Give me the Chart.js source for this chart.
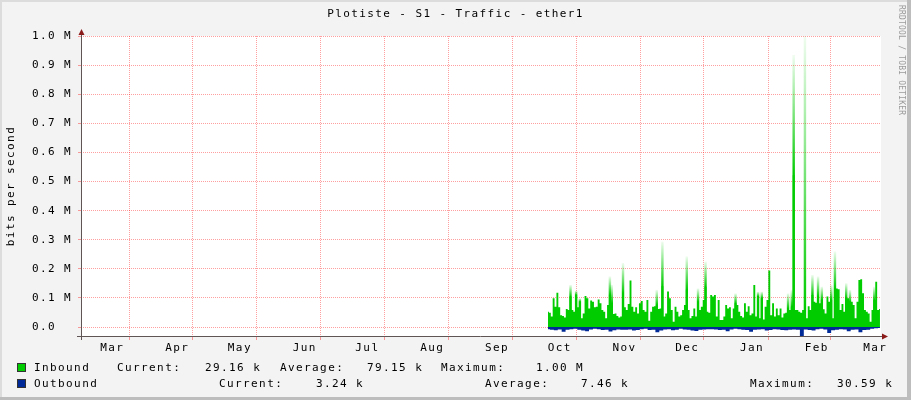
<!DOCTYPE html>
<html>
<head>
<meta charset="utf-8">
<script src="https://cdn.jsdelivr.net/npm/chart.js@4/dist/chart.umd.min.js"></script>
<style>
  html, body { margin: 0; padding: 0; background: #f3f3f3; }
  #wrap { width: 911px; height: 400px; }
</style>
</head>
<body>
<div id="wrap"><canvas id="c"></canvas></div>
<script>
// ── Data ──────────────────────────────────────────────────────────────────────
// time axis in days counted from Mar 1 of the first year
const MONTH_LABELS = ['Mar','Apr','May','Jun','Jul','Aug','Sep','Oct','Nov','Dec','Jan','Feb','Mar'];
const MONTH_START  = [0, 31, 61, 92, 122, 153, 184, 214, 245, 275, 306, 337, 365];
const DAY_MAX      = 382.7;

const Y_TICKS = [0, 100000, 200000, 300000, 400000, 500000, 600000, 700000, 800000, 900000, 1000000];
const Y_MIN   = -30590;
const Y_MAX   = 1000000;

// inbound samples (kbit/s), first sample ~Oct 10, last one at the graph end
const IN_FIRST_DAY = 223.4;
const IN_LAST_DAY  = 382.2;
const inbound = [
  53, 49, 36, 99, 70, 118, 68, 41, 38, 33, 62, 59, 105, 59, 53, 110, 68, 87, 30, 47,
  107, 99, 64, 91, 87, 68, 70, 95, 82, 59, 53, 30, 76, 110, 82, 45, 47, 38, 33, 36,
  116, 68, 59, 79, 160, 70, 53, 68, 47, 82, 90, 59, 53, 93, 22, 53, 70, 72, 76, 62,
  64, 140, 36, 47, 122, 99, 59, 18, 70, 53, 36, 41, 59, 76, 128, 59, 30, 38, 64, 36,
  87, 59, 70, 93, 139, 53, 49, 110, 105, 110, 36, 93, 24, 24, 36, 76, 64, 68, 30, 64,
  82, 76, 53, 38, 33, 82, 53, 72, 41, 47, 145, 36, 105, 30, 99, 26, 70, 93, 194, 41,
  82, 36, 64, 41, 64, 33, 47, 49, 64, 59, 70, 522, 59, 59, 53, 49, 59, 60, 30, 72,
  59, 110, 87, 84, 105, 82, 93, 61, 47, 105, 87, 93, 30, 133, 133, 130, 59, 79, 53, 99,
  99, 87, 87, 76, 30, 87, 162, 164, 116, 59, 53, 47, 18, 59, 93, 156, 59, 62,
];
// [sample index, peak kbit/s] for spikes whose tops fade out
const inboundSpikes = [
  [12, 145], [15, 125], [17, 99], [33, 174], [34, 145], [40, 220], [58, 128], [61, 294],
  [74, 243], [80, 133], [84, 225], [100, 116], [112, 122], [114, 122], [128, 116], [130, 128],
  [131, 935], [137, 1000], [141, 179], [144, 174], [146, 139], [151, 145], [153, 260],
  [159, 151], [161, 128], [174, 139],
];
// outbound samples (kbit/s), drawn below the zero line
const outbound = [
  7, 9, 11, 8, 16, 9, 7, 6, 9, 12, 14, 8, 6, 7, 10, 9, 15, 11, 8, 9,
  9, 8, 12, 10, 7, 6, 10, 9, 18, 12, 8, 7, 11, 9, 6, 8, 9, 12, 13, 9, 8, 7,
  7, 8, 10, 9, 14, 8, 6, 7, 9, 10, 16, 9, 8, 7, 12, 10, 7, 8, 10, 11, 9, 8,
  9, 31, 8, 10, 12, 7, 6, 8, 20, 11, 9, 7, 8, 14, 9, 8, 18, 10, 9, 6, 4, 3,
];

const TITLE = 'Plotiste - S1 - Traffic - ether1';
const Y_TITLE = 'bits per second';
const inboundStats  = ['29.16 k', '79.15 k', '1.00 M'];
const outboundStats = ['3.24 k', '7.46 k', '30.59 k'];

// ── Helpers ───────────────────────────────────────────────────────────────────
const FONT = "'DejaVu Sans Mono', monospace";
const SPACING = '1.4px';
const GREEN = '#00cc00';
const BLUE  = '#002a97';
const GRID  = 'rgba(255,0,0,0.38)';

function sampleDay(i, n) {
  return IN_FIRST_DAY + i * (IN_LAST_DAY - IN_FIRST_DAY) / (n - 1);
}

const inPoints  = inbound.map((v, i) => ({ x: sampleDay(i, inbound.length), y: v * 1000 }));
const outPoints = outbound.map((v, i) => ({ x: sampleDay(i, outbound.length), y: -v * 1000 }));
const spikePoints = inboundSpikes.map(([i, p]) => ({
  x: sampleDay(i, inbound.length), y: p * 1000, s: inbound[i] * 1000,
}));

function spikeFill(ctx) {
  const chart = ctx.chart;
  const ys = chart.scales.y;
  if (ctx.type !== 'data' || !ys || !ctx.raw) return GREEN;
  const y0 = ys.getPixelForValue(ctx.raw.s);
  const y1 = ys.getPixelForValue(ctx.raw.y);
  if (!Number.isFinite(y0) || !Number.isFinite(y1) || y0 === y1) return GREEN;
  const g = chart.ctx.createLinearGradient(0, y0, 0, y1);
  g.addColorStop(0, 'rgba(0,204,0,1)');
  g.addColorStop(1, 'rgba(0,204,0,0.06)');
  return g;
}

// ── rrdtool-like frame, axes, title and legend ───────────────────────────────
const rrdFrame = {
  id: 'rrdFrame',
  beforeDraw(chart) {
    const { ctx, width, height, chartArea: a } = chart;
    ctx.save();
    ctx.fillStyle = '#f3f3f3';
    ctx.fillRect(0, 0, width, height);
    ctx.fillStyle = '#dcdcdc';
    ctx.fillRect(0, 0, width, 2);
    ctx.fillRect(0, 0, 2, height);
    ctx.fillStyle = '#bdbdbd';
    ctx.fillRect(0, height - 3, width, 3);
    ctx.fillRect(width - 4, 0, 4, height);
    ctx.fillStyle = '#ffffff';
    ctx.fillRect(a.left, a.top, a.right - a.left, a.bottom - a.top);
    ctx.restore();
    ctx.letterSpacing = SPACING;
  },
  afterDraw(chart) {
    const { ctx, chartArea: a, width } = chart;
    ctx.save();

    // axes
    ctx.strokeStyle = '#5f5555';
    ctx.lineWidth = 1;
    ctx.beginPath();
    ctx.moveTo(a.left + 0.5, a.bottom + 4);
    ctx.lineTo(a.left + 0.5, a.top - 5);
    ctx.moveTo(a.left - 4, a.bottom + 0.5);
    ctx.lineTo(a.right + 3, a.bottom + 0.5);
    ctx.stroke();
    ctx.fillStyle = '#8b1a1a';
    ctx.beginPath();
    ctx.moveTo(a.left + 0.5, a.top - 7);
    ctx.lineTo(a.left - 2.5, a.top - 1);
    ctx.lineTo(a.left + 3.5, a.top - 1);
    ctx.closePath();
    ctx.fill();
    ctx.beginPath();
    ctx.moveTo(a.right + 7, a.bottom + 0.5);
    ctx.lineTo(a.right + 1, a.bottom - 2.5);
    ctx.lineTo(a.right + 1, a.bottom + 3.5);
    ctx.closePath();
    ctx.fill();

    // title
    ctx.fillStyle = '#000';
    ctx.font = '11px ' + FONT;
    ctx.letterSpacing = SPACING;
    ctx.textBaseline = 'middle';
    ctx.textAlign = 'center';
    ctx.fillText(TITLE, width / 2, 14);

    // legend
    ctx.textAlign = 'left';
    const rows = [
      { y: 368, color: GREEN, name: 'Inbound', stats: inboundStats,
        cols: [117, 205, 280, 367, 441, 536] },
      { y: 384, color: BLUE, name: 'Outbound', stats: outboundStats,
        cols: [219, 316, 485, 581, 750, 837] },
    ];
    rows.forEach(r => {
      ctx.fillStyle = r.color;
      ctx.fillRect(17, r.y - 5, 9, 9);
      ctx.strokeStyle = '#333';
      ctx.strokeRect(17.5, r.y - 4.5, 8, 8);
      ctx.fillStyle = '#000';
      ctx.fillText(r.name, 34, r.y);
      ['Current:', 'Average:', 'Maximum:'].forEach((lab, k) => {
        ctx.fillText(lab, r.cols[k * 2], r.y);
        ctx.fillText(r.stats[k], r.cols[k * 2 + 1], r.y);
      });
    });

    // watermark
    ctx.translate(901, 5);
    ctx.rotate(Math.PI / 2);
    ctx.font = '8px ' + FONT;
    ctx.letterSpacing = '0.2px';
    ctx.fillStyle = '#9a9a9a';
    ctx.textBaseline = 'middle';
    ctx.fillText('RRDTOOL / TOBI OETIKER', 0, 0);

    ctx.restore();
  },
};

// ── Chart ─────────────────────────────────────────────────────────────────────
Chart.defaults.font.family = FONT;
Chart.defaults.font.size = 11;
Chart.defaults.color = '#000';

new Chart(document.getElementById('c'), {
  type: 'line',
  data: {
    datasets: [
      {
        label: 'Inbound peaks',
        type: 'bar',
        data: spikePoints,
        backgroundColor: spikeFill,
        borderWidth: 0,
        barPercentage: 1.3,
        categoryPercentage: 1,
        order: 3,
      },
      {
        label: 'Inbound',
        data: inPoints,
        backgroundColor: GREEN,
        borderColor: 'rgba(0,0,0,0)',
        borderWidth: 0,
        fill: 'origin',
        stepped: 'middle',
        pointRadius: 0,
        order: 2,
      },
      {
        label: 'Outbound',
        data: outPoints,
        backgroundColor: BLUE,
        borderColor: 'rgba(0,0,0,0)',
        borderWidth: 0,
        fill: 'origin',
        stepped: 'middle',
        pointRadius: 0,
        order: 1,
      },
    ],
  },
  options: {
    responsive: true,
    maintainAspectRatio: false,
    animation: false,
    events: [],
    layout: { padding: { left: 0, right: 30, top: 36, bottom: 0 } },
    plugins: { legend: { display: false }, tooltip: { enabled: false } },
    scales: {
      x: {
        type: 'linear',
        min: 0,
        max: DAY_MAX,
        offset: false,
        afterBuildTicks: s => {
          const vals = MONTH_START.slice(1).concat(MONTH_START.map(d => d + 15));
          s.ticks = vals.sort((p, q) => p - q).map(v => ({ value: v }));
        },
        afterFit: s => { s.height = 64; },
        ticks: {
          autoSkip: false,
          maxRotation: 0,
          padding: 2,
          callback: v => {
            const k = MONTH_START.indexOf(v - 15);
            return k >= 0 ? MONTH_LABELS[k] : '';
          },
        },
        grid: {
          color: c => (c.tick && MONTH_START.includes(c.tick.value)) ? GRID : 'rgba(0,0,0,0)',
          tickLength: 4,
        },
        border: { display: false, dash: [1, 1] },
      },
      y: {
        min: Y_MIN,
        max: Y_MAX,
        afterBuildTicks: s => { s.ticks = Y_TICKS.map(v => ({ value: v })); },
        afterFit: s => { s.width = 81; },
        ticks: {
          padding: 6,
          callback: v => v === 0 ? '0.0  ' : (v / 1e6).toFixed(1) + ' M',
        },
        grid: { color: GRID, tickLength: 3 },
        border: { display: false, dash: [1, 1] },
        title: {
          display: true,
          text: Y_TITLE,
          padding: { top: 5, bottom: 0 },
          font: { size: 11 },
        },
      },
    },
  },
  plugins: [rrdFrame],
});
</script>
</body>
</html>
